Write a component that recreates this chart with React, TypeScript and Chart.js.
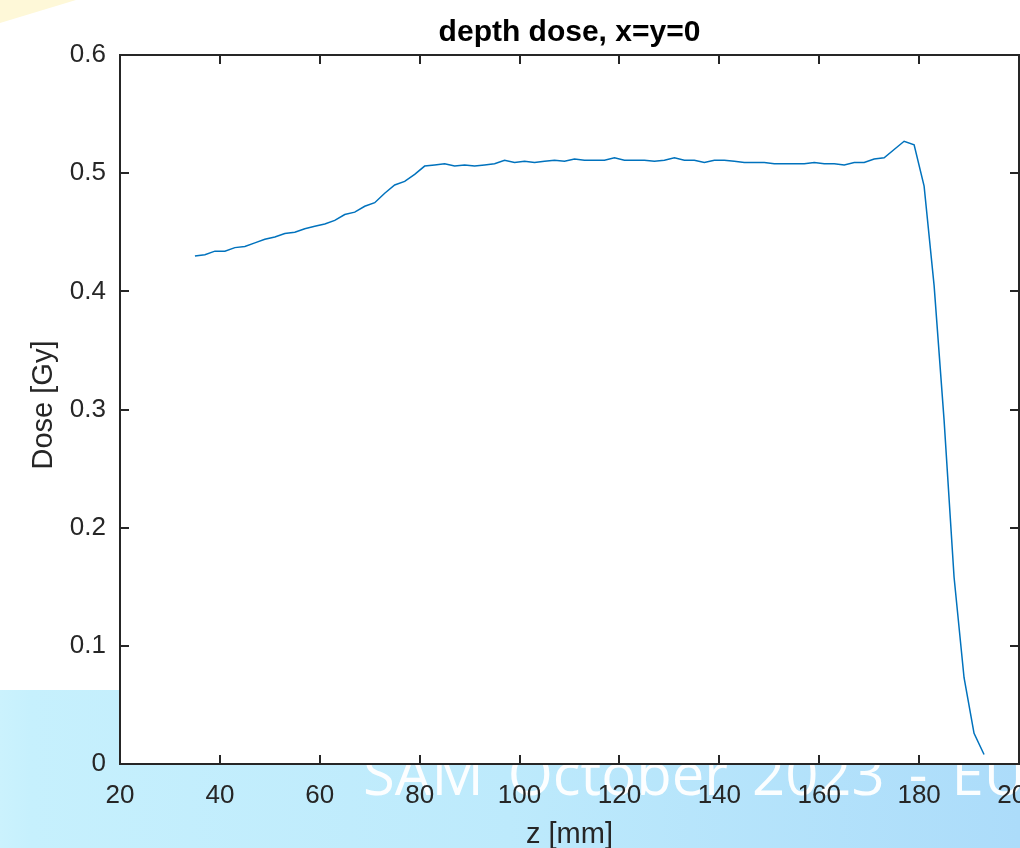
import { useEffect, useRef } from "react";
import { Chart, registerables } from "chart.js";

Chart.register(...registerables);

const zValues = [
  35, 37, 39, 41, 43, 45, 47, 49, 51, 53, 55, 57, 59, 61, 63, 65, 67, 69, 71, 73,
  75, 77, 79, 81, 83, 85, 87, 89, 91, 93, 95, 97, 99, 101, 103, 105, 107, 109, 111, 113,
  115, 117, 119, 121, 123, 125, 127, 129, 131, 133, 135, 137, 139, 141, 143, 145, 147, 149, 151, 153,
  155, 157, 159, 161, 163, 165, 167, 169, 171, 173, 175, 177, 179, 181, 183, 185, 187, 189, 191, 193,
];

const doseValues = [
  0.430, 0.431, 0.434, 0.434, 0.437, 0.438, 0.441, 0.444, 0.446, 0.449,
  0.450, 0.453, 0.455, 0.457, 0.460, 0.465, 0.467, 0.472, 0.475, 0.483,
  0.490, 0.493, 0.499, 0.506, 0.507, 0.508, 0.506, 0.507, 0.506, 0.507,
  0.508, 0.511, 0.509, 0.510, 0.509, 0.510, 0.511, 0.510, 0.512, 0.511,
  0.511, 0.511, 0.513, 0.511, 0.511, 0.511, 0.510, 0.511, 0.513, 0.511,
  0.511, 0.509, 0.511, 0.511, 0.510, 0.509, 0.509, 0.509, 0.508, 0.508,
  0.508, 0.508, 0.509, 0.508, 0.508, 0.507, 0.509, 0.509, 0.512, 0.513,
  0.520, 0.527, 0.524, 0.489, 0.405, 0.291, 0.158, 0.073, 0.026, 0.008,
];

const xTickValues = [20, 40, 60, 80, 100, 120, 140, 160, 180, 200];
const xTickLabels = ["20", "40", "60", "80", "100", "120", "140", "160", "180", "200"];
const yTickValues = [0, 0.1, 0.2, 0.3, 0.4, 0.5, 0.6];
const yTickLabels = ["0", "0.1", "0.2", "0.3", "0.4", "0.5", "0.6"];

const titleText = "depth dose, x=y=0";
const xAxisLabel = "z [mm]";
const yAxisLabel = "Dose [Gy]";
const watermarkText = "SAM October 2023 - EU";

const FONT = '"Liberation Sans", Arial, Helvetica, sans-serif';
const AXIS_COLOR = "#262626";

const decorPlugin = {
  id: "decor",
  beforeDraw(chart: any) {
    const { ctx, width, height } = chart;
    const { left, top, right, bottom } = chart.chartArea;
    ctx.save();
    ctx.fillStyle = "#ffffff";
    ctx.fillRect(0, 0, width, height);

    // pale yellow corner
    ctx.fillStyle = "#fef8d8";
    ctx.beginPath();
    ctx.moveTo(0, 0);
    ctx.lineTo(76, 0);
    ctx.lineTo(0, 23);
    ctx.closePath();
    ctx.fill();

    // light blue band
    const g = ctx.createLinearGradient(0, 0, width, 0);
    g.addColorStop(0, "#cbf2fd");
    g.addColorStop(0.03, "#c6f0fd");
    g.addColorStop(0.5, "#bdeafc");
    g.addColorStop(1, "#acdcfa");
    ctx.fillStyle = g;
    ctx.fillRect(0, 690, width, height - 690);

    // watermark text
    ctx.fillStyle = "rgba(255,255,255,0.95)";
    ctx.font = '58px "Open Sans", "Noto Sans", sans-serif';
    ctx.textAlign = "left";
    ctx.textBaseline = "alphabetic";
    try {
      (ctx as any).wordSpacing = "9px";
    } catch (e) {
      /* ignore */
    }
    ctx.fillText(watermarkText, 363, 795);
    try {
      (ctx as any).wordSpacing = "0px";
    } catch (e) {
      /* ignore */
    }

    // plot area
    ctx.fillStyle = "#ffffff";
    ctx.fillRect(left, top, right - left, bottom - top);
    ctx.restore();
  },
  afterDraw(chart: any) {
    const { ctx } = chart;
    const { left, top, right, bottom } = chart.chartArea;
    const xs = chart.scales.x;
    const ys = chart.scales.y;
    ctx.save();
    ctx.strokeStyle = AXIS_COLOR;
    ctx.lineWidth = 2;
    ctx.strokeRect(left, top, right - left, bottom - top);

    const tickLen = 9;
    ctx.beginPath();
    xTickValues.forEach((v) => {
      const px = Math.round(xs.getPixelForValue(v));
      ctx.moveTo(px, bottom);
      ctx.lineTo(px, bottom - tickLen);
      ctx.moveTo(px, top);
      ctx.lineTo(px, top + tickLen);
    });
    yTickValues.forEach((v) => {
      const py = Math.round(ys.getPixelForValue(v));
      ctx.moveTo(left, py);
      ctx.lineTo(left + tickLen, py);
      ctx.moveTo(right, py);
      ctx.lineTo(right - tickLen, py);
    });
    ctx.stroke();

    ctx.fillStyle = AXIS_COLOR;
    ctx.font = `26px ${FONT}`;
    ctx.textAlign = "center";
    ctx.textBaseline = "alphabetic";
    xTickValues.forEach((v, i) => {
      ctx.fillText(xTickLabels[i], xs.getPixelForValue(v), 803);
    });
    ctx.textAlign = "right";
    ctx.textBaseline = "middle";
    yTickValues.forEach((v, i) => {
      ctx.fillText(yTickLabels[i], 106, ys.getPixelForValue(v));
    });

    ctx.font = `29px ${FONT}`;
    ctx.textAlign = "center";
    ctx.textBaseline = "alphabetic";
    ctx.fillText(xAxisLabel, (left + right) / 2, 843);

    ctx.save();
    ctx.translate(52, 405);
    ctx.rotate(-Math.PI / 2);
    ctx.fillText(yAxisLabel, 0, 0);
    ctx.restore();

    ctx.fillStyle = "#000000";
    ctx.font = `bold 30px ${FONT}`;
    ctx.fillText(titleText, (left + right) / 2, 41);
    ctx.restore();
  },
};

export default function App() {
  const canvasRef = useRef<HTMLCanvasElement | null>(null);

  useEffect(() => {
    if (!canvasRef.current) return;
    const points = zValues.map((z, i) => ({ x: z, y: doseValues[i] }));
    const chart = new Chart(canvasRef.current, {
      type: "line",
      data: {
        datasets: [
          {
            label: "depth dose",
            data: points,
            borderColor: "#0072BD",
            borderWidth: 1.5,
            pointRadius: 0,
            tension: 0,
            fill: false,
          },
        ],
      },
      options: {
        responsive: false,
        animation: false,
        devicePixelRatio: 1,
        layout: { padding: { top: 55, right: 1, bottom: 0, left: 0 } },
        plugins: {
          legend: { display: false },
          title: { display: false },
          tooltip: { enabled: false },
        },
        scales: {
          x: {
            type: "linear",
            min: 20,
            max: 200,
            ticks: { display: false, stepSize: 20 },
            grid: { display: false },
            border: { display: false },
            afterFit: (scale: any) => {
              scale.height = 84;
              scale.paddingLeft = 0;
              scale.paddingRight = 0;
            },
          },
          y: {
            type: "linear",
            min: 0,
            max: 0.6,
            ticks: { display: false, stepSize: 0.1 },
            grid: { display: false },
            border: { display: false },
            afterFit: (scale: any) => {
              scale.width = 120;
              scale.paddingTop = 0;
              scale.paddingBottom = 0;
            },
          },
        },
      },
      plugins: [decorPlugin],
    } as any);
    return () => chart.destroy();
  }, []);

  return (
    <div style={{ position: "absolute", left: 0, top: 0, width: 1020, height: 848 }}>
      <canvas ref={canvasRef} width={1020} height={848} />
    </div>
  );
}
